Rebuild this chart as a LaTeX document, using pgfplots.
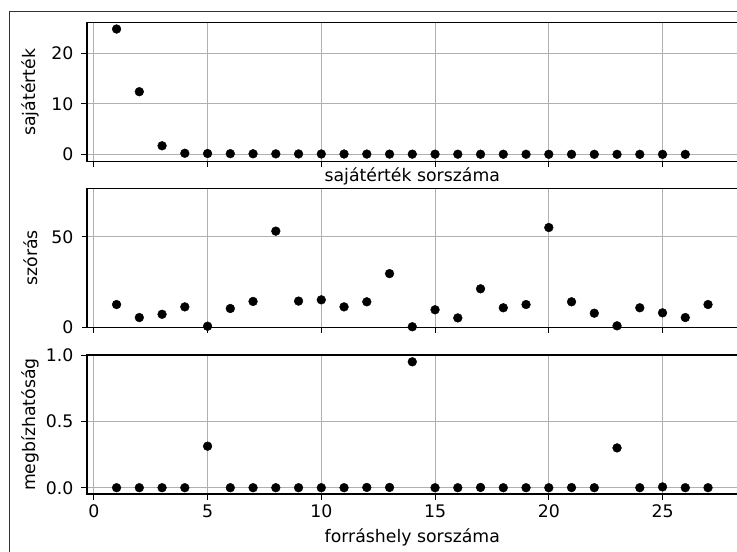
\documentclass[border=0pt]{standalone}
\usepackage{fontspec}
\setmainfont{DejaVu Sans}
\usepackage{pgfplots}
\pgfplotsset{compat=1.18}
\definecolor{gridc}{HTML}{B0B0B0}
\pgfplotsset{
 panel/.style={
  scale only axis, width=650.6bp, height=139bp,
  xmin=-0.3, xmax=28.3,
  xtick={0,5,...,25},
  grid=major, major grid style={gridc, line width=1bp},
  axis line style={black, line width=1.1bp},
  tick align=outside, tick pos=left, major tick length=5.5bp,
  tick style={black, line width=1bp},
  /pgf/number format/assume math mode=true,
  every tick label/.append style={font=\fontsize{17.3bp}{20bp}\selectfont},
  label style={font=\fontsize{17.3bp}{20bp}\selectfont},
  yticklabel style={anchor=east, inner sep=0pt, xshift=-8bp},
  xticklabel style={anchor=north, inner sep=0pt, yshift=-5bp},
  every axis y label/.style={at={(axis description cs:-0.087,0.5)}, rotate=90, anchor=center},
  anchor=north west,
 },
 pts/.style={only marks, mark=*, mark size=4.4bp, black},
}
\begin{document}
\fontsize{17.3bp}{20bp}\selectfont
\begin{tikzpicture}
\path[use as bounding box] (0,0) rectangle (737bp,-552bp);
\clip (0,0) rectangle (737bp,-552bp);
\draw[line width=1bp, black!80] (9bp,-560bp) |- (745bp,-11.7bp);
% panel 1
\begin{axis}[panel, at={(87bp,-22.7bp)},
  ymin=-1.45, ymax=26.05, ytick={0,10,20},
  xticklabels={},
  ylabel={sajátérték}, xlabel={sajátérték sorszáma},
  every axis x label/.style={at={(axis description cs:0.5,-0.105)}, anchor=center}]
\addplot[pts] coordinates {
(1,24.8) (2,12.4) (3,1.7) (4,0.22) (5,0.17) (6,0.14) (7,0.12) (8,0.1) (9,0.09)
(10,0.08) (11,0.07) (12,0.06) (13,0.05) (14,0.045) (15,0.04) (16,0.035) (17,0.03)
(18,0.025) (19,0.02) (20,0.018) (21,0.015) (22,0.012) (23,0.01) (24,0.008) (25,0.005) (26,0.002)};
\end{axis}
% panel 2
\begin{axis}[panel, at={(87bp,-188.3bp)},
  ymin=0, ymax=76.9, ytick={0,50},
  xticklabels={},
  ylabel={szórás}]
\addplot[pts] coordinates {
(1,12.6) (2,5.4) (3,7.2) (4,11.3) (5,0.6) (6,10.4) (7,14.3) (8,53.2) (9,14.5)
(10,15.2) (11,11.3) (12,14.1) (13,29.7) (14,0.3) (15,9.7) (16,5.2) (17,21.3)
(18,10.8) (19,12.6) (20,55.2) (21,14.1) (22,7.8) (23,0.8) (24,10.8) (25,8.0)
(26,5.4) (27,12.6)};
\end{axis}
% panel 3
\begin{axis}[panel, at={(87bp,-355bp)},
  ymin=-0.0475, ymax=1.0002, ytick={0,0.5,1},
  yticklabel style={/pgf/number format/.cd, fixed, fixed zerofill, precision=1},
  ylabel={megbízhatóság}, xlabel={forráshely sorszáma},
  every axis x label/.style={at={(axis description cs:0.5,-0.315)}, anchor=center}]
\addplot[pts] coordinates {
(1,0) (2,0) (3,0) (4,0) (5,0.313) (6,0) (7,0) (8,0) (9,0) (10,0) (11,0) (12,0.002)
(13,0.002) (14,0.949) (15,0) (16,0) (17,0.002) (18,0) (19,0) (20,0) (21,0.001)
(22,0) (23,0.30) (24,0) (25,0.006) (26,0) (27,0)};
\end{axis}
\end{tikzpicture}
\end{document}
